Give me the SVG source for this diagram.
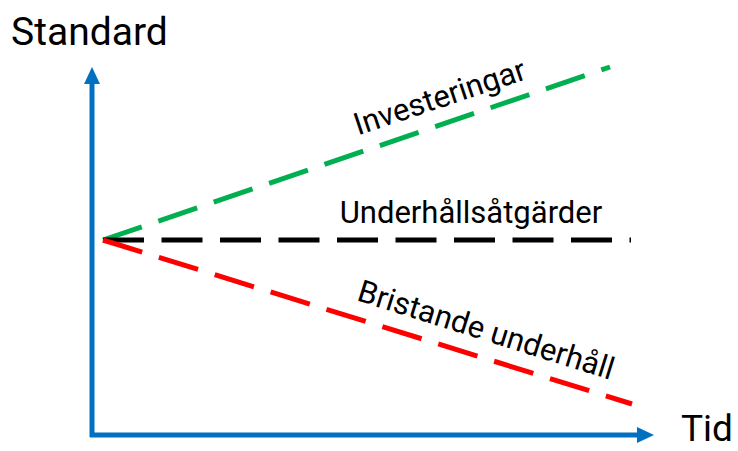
<svg xmlns="http://www.w3.org/2000/svg" width="738" height="451" viewBox="0 0 738 451">
<style>
text{font-family:Roboto,"Liberation Sans",sans-serif;fill:#000}
.big{font-size:39px}
.lbl{font-size:31px}
.dash{fill:none;stroke-width:5;stroke-dasharray:41 17.5}
.axis{fill:none;stroke:#0070C0;stroke-width:5}
</style>
<rect width="738" height="451" fill="#fff"/>
<g id="connectors">
<line class="dash" x1="103" y1="240" x2="610" y2="67" stroke="#00B050"/>
<line class="dash" x1="103" y1="240" x2="631" y2="240" stroke="#000"/>
<line class="dash" x1="103" y1="240" x2="632" y2="404" stroke="#FF0000"/>
</g>
<g id="axes">
<line class="axis" x1="92" y1="437" x2="92" y2="80"/>
<polygon points="92,67 100,84 84,84" fill="#0070C0"/>
<line class="axis" x1="90" y1="435" x2="641" y2="435"/>
<polygon points="654,435 637,427 637,443" fill="#0070C0"/>
</g>
<g id="labels">
<text class="big" x="11" y="45">Standard</text>
<text class="big" x="681" y="441" style="font-size:37px">Tid</text>
<text class="lbl" x="471" y="223" text-anchor="middle">Underhållsåtgärder</text>
<text class="lbl" transform="translate(443,107) rotate(-18.5)" text-anchor="middle">Investeringar</text>
<text class="lbl" transform="translate(483,340) rotate(17.4)" text-anchor="middle">Bristande underhåll</text>
</g>
</svg>
